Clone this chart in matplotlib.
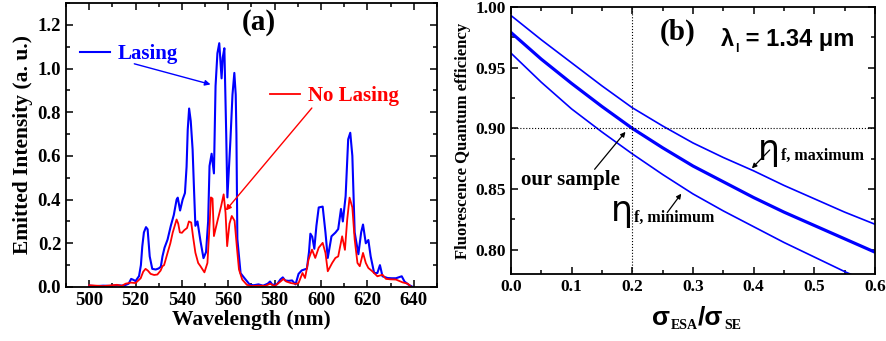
import numpy as np
import matplotlib
matplotlib.use("Agg")
import matplotlib.pyplot as plt
from matplotlib.ticker import MultipleLocator

plt.rcParams['font.family'] = ['Liberation Serif', 'DejaVu Serif']
plt.rcParams['font.weight'] = 'bold'
plt.rcParams['axes.labelweight'] = 'bold'

# (a) emission spectra
blue_nm = [500, 503, 506, 509, 512, 515, 517, 518.1, 519, 520, 521.5, 522.3, 522.9, 523.6,
           524.5, 525.2, 526.1, 527.2, 528.7, 530, 530.9, 531.6, 532.5, 533.8, 535.2, 536.5,
           537.7, 538.2, 539.2, 540.3, 541.3, 542, 542.5, 543.1, 543.8, 544.6, 545.2, 545.8,
           546.7, 548, 549.3, 550.4, 551.3, 551.9, 552.8, 553.8, 554.5, 555.3, 556.1, 557.1,
           557.6, 558.3, 559.1, 559.6, 560.3, 560.9, 561.8, 562.6, 563.2, 563.5, 563.9, 565.3,
           567, 569.3, 571, 573, 575, 577, 578, 579, 581, 582.5, 583.5, 584.5, 586, 587.5,
           589, 590.3, 591.7, 593.9, 594.8, 595.4, 596.2, 597.1, 598, 599, 600.7, 601.9,
           602.9, 604.5, 606.2, 607.4, 608.6, 609.4, 610.6, 611.7, 612.6, 613.5, 614.5, 616.1,
           617.3, 618.1, 619.3, 620.4, 621.4, 622.9, 624.3, 625.4, 626.5, 628.7, 630.5, 632.3,
           634.8, 636, 637.8, 639.6]
blue_int = [0.006, 0.004, 0.006, 0.005, 0.008, 0.006, 0.015, 0.037, 0.033, 0.027, 0.05, 0.1,
            0.186, 0.25, 0.274, 0.264, 0.14, 0.083, 0.08, 0.085, 0.093, 0.14, 0.18, 0.217,
            0.28, 0.33, 0.40, 0.409, 0.35, 0.40, 0.43, 0.55, 0.72, 0.817, 0.76, 0.63, 0.45,
            0.28, 0.30, 0.21, 0.132, 0.16, 0.3, 0.554, 0.61, 0.52, 0.92, 1.07, 1.116, 0.955,
            1.05, 1.093, 0.70, 0.41, 0.55, 0.67, 0.88, 0.98, 0.88, 0.70, 0.22, 0.063, 0.04,
            0.01, 0.008, 0.012, 0.006, 0.015, 0.025, 0.01, 0.012, 0.035, 0.044, 0.03, 0.028,
            0.03, 0.012, 0.06, 0.076, 0.084, 0.16, 0.244, 0.23, 0.175, 0.28, 0.364, 0.368,
            0.25, 0.133, 0.232, 0.249, 0.265, 0.357, 0.30, 0.416, 0.676, 0.706, 0.60, 0.25,
            0.15, 0.25, 0.286, 0.20, 0.215, 0.14, 0.064, 0.064, 0.10, 0.049, 0.041, 0.04,
            0.04, 0.049, 0.025, 0.01, 0.0]

red_nm = [500, 503, 506, 509, 512, 514, 515.7, 518, 520, 522.2, 523.3, 524.3, 525.3, 526.5,
          528, 529.4, 530.8, 531.6, 532.3, 533.8, 535, 536, 537.7, 538.4, 539.1, 540, 541,
          542.2, 543, 544, 544.8, 545.8, 547, 548, 549.7, 551, 552, 552.5, 553.2, 553.8,
          554.6, 555.5, 556.9, 558, 558.8, 559.5, 560.5, 561.5, 562.7, 563.8, 564.6, 566,
          568, 570, 573, 576, 578, 580, 582.5, 583.8, 585, 587, 589, 590.3, 592, 593.1,
          594.6, 596.1, 597.5, 599, 600.7, 601.9, 602.9, 604.8, 606.2, 607.4, 609.1, 610.3,
          611.3, 612.3, 613.5, 614.5, 615.7, 616.7, 618.1, 619.3, 620.4, 622.1, 624.3, 626.5,
          628, 630, 632.3, 635.2, 637.4, 638.9]
red_int = [0.008, 0.006, 0.004, 0.007, 0.01, 0.005, 0.015, 0.02, 0.018, 0.04, 0.07, 0.083,
           0.075, 0.06, 0.055, 0.057, 0.075, 0.095, 0.1, 0.156, 0.2, 0.248, 0.309, 0.29, 0.25,
           0.248, 0.26, 0.27, 0.30, 0.295, 0.23, 0.157, 0.11, 0.095, 0.067, 0.11, 0.3, 0.41,
           0.405, 0.233, 0.27, 0.31, 0.37, 0.424, 0.34, 0.187, 0.29, 0.325, 0.303, 0.17, 0.08,
           0.034, 0.01, 0.004, 0.006, 0.005, 0.015, 0.004, 0.025, 0.037, 0.025, 0.018, 0.014,
           0.018, 0.064, 0.041, 0.125, 0.171, 0.133, 0.18, 0.202, 0.156, 0.072, 0.11, 0.133,
           0.14, 0.232, 0.17, 0.31, 0.409, 0.364, 0.218, 0.11, 0.095, 0.156, 0.11, 0.087,
           0.072, 0.049, 0.056, 0.037, 0.035, 0.034, 0.021, 0.015, 0.0]

# (b) fluorescence quantum efficiency vs sigma_ESA / sigma_SE
ratio = [0.0, 0.05, 0.1, 0.15, 0.2, 0.25, 0.3, 0.35, 0.4, 0.45, 0.5, 0.55, 0.6]
eta_max = [0.993, 0.973, 0.954, 0.935, 0.917, 0.902, 0.888, 0.876, 0.865, 0.853, 0.842, 0.831, 0.821]
eta_mid = [0.979, 0.957, 0.937, 0.918, 0.900, 0.884, 0.869, 0.856, 0.843, 0.831, 0.820, 0.809, 0.798]
eta_min = [0.962, 0.938, 0.916, 0.897, 0.879, 0.862, 0.846, 0.832, 0.819, 0.806, 0.794, 0.782, 0.771]
sample_ratio = 0.2
sample_eta = 0.90


def style_axes(ax, tick_size):
    for s in ax.spines.values():
        s.set_linewidth(1.3)
    ax.tick_params(which='both', direction='in', top=True, right=True, labelsize=tick_size, width=1.1)
    ax.tick_params(which='major', length=5)
    ax.tick_params(which='minor', length=3)


def chain_text(ax, x, y, parts, transform):
    # parts: (text, size, family, weight, dy in points below/above the common baseline)
    prev = None
    for txt, size, fam, wt, dy in parts:
        if prev is None:
            t = ax.text(x, y, txt, fontsize=size, family=fam, weight=wt, va='baseline',
                        transform=transform, clip_on=False)
        else:
            t = ax.annotate(txt, xy=(1, y), xycoords=(prev, transform), xytext=(0.5, dy),
                            textcoords='offset points', fontsize=size, family=fam, weight=wt,
                            va='baseline', ha='left', annotation_clip=False)
        prev = t


fig = plt.figure(figsize=(8.86, 3.41), dpi=100)

# ---------- (a)
ax1 = fig.add_axes([0.0745, 0.1584, 0.4187, 0.8328])
lb, = ax1.plot(blue_nm, blue_int, color='#0000ff', lw=1.5)
lr, = ax1.plot(red_nm, red_int, color='#ff0000', lw=1.3)
ax1.set_xlim(490, 650)
ax1.set_ylim(0, 1.3)
ax1.xaxis.set_minor_locator(MultipleLocator(10))
ax1.yaxis.set_major_locator(MultipleLocator(0.2))
ax1.yaxis.set_minor_locator(MultipleLocator(0.1))
ax1.set_xticks([500, 520, 540, 560, 580, 600, 620, 640])
ax1.yaxis.set_major_formatter(plt.FuncFormatter(lambda v, p: f"{v:.1f}"))
style_axes(ax1, 13.5)
ax1.set_xlabel("Wavelength (nm)", fontsize=15.5, labelpad=1)
ax1.set_ylabel("Emitted Intensity (a. u.)", fontsize=15.5, labelpad=3)

leg_font = dict(family='Liberation Serif', weight='bold', size=15)
leg1 = ax1.legend([lb], ['Lasing'], loc='center left', bbox_to_anchor=(0.038, 0.821),
                  frameon=False, prop=leg_font, handlelength=1.45, handletextpad=0.35,
                  borderpad=0, borderaxespad=0, labelcolor='#0000ff')
ax1.add_artist(leg1)
ax1.legend([lr], ['No Lasing'], loc='center left', bbox_to_anchor=(0.55, 0.673),
           frameon=False, prop=leg_font, handlelength=1.45, handletextpad=0.35,
           borderpad=0, borderaxespad=0, labelcolor='#ff0000')

ax1.annotate('', xy=(553.5, 0.924), xytext=(518.3, 1.025),
             arrowprops=dict(arrowstyle='-|>', color='#0000ff', lw=1.0, mutation_scale=8))
ax1.annotate('', xy=(558.1, 0.34), xytext=(596.8, 0.829),
             arrowprops=dict(arrowstyle='-|>', color='#ff0000', lw=1.0, mutation_scale=8))
ax1.text(573, 1.21, "(a)", fontsize=21, ha='center', va='center')

# ---------- (b)
ax2 = fig.add_axes([0.5767, 0.1965, 0.4108, 0.783])
ax2.plot(ratio, eta_max, color='#0000ff', lw=1.2)
ax2.plot(ratio, eta_mid, color='#0000ff', lw=2.3)
ax2.plot(ratio, eta_min, color='#0000ff', lw=1.2)
ax2.axvline(sample_ratio, color='k', ls=':', lw=0.8)
ax2.axhline(sample_eta, color='k', ls=':', lw=0.8)
ax2.set_xlim(0, 0.6)
ax2.set_ylim(0.78, 1.0)
ax2.xaxis.set_major_locator(MultipleLocator(0.1))
ax2.xaxis.set_minor_locator(MultipleLocator(0.05))
ax2.yaxis.set_major_locator(MultipleLocator(0.05))
ax2.yaxis.set_minor_locator(MultipleLocator(0.025))
ax2.xaxis.set_major_formatter(plt.FuncFormatter(lambda v, p: f"{v:.1f}"))
ax2.yaxis.set_major_formatter(plt.FuncFormatter(lambda v, p: f"{v:.2f}"))
style_axes(ax2, 12.5)
ax2.set_ylabel("Fluorescence Quantum efficiency", fontsize=12, labelpad=3)

ax2.text(0.245, 0.973, "(b)", fontsize=21, ha='left', va='baseline')
chain_text(ax2, 0.346, 0.9675,
           [("λ", 17, 'Liberation Sans', 'bold', 0),
            ("l", 9, 'Liberation Sans', 'bold', -4),
            (" = 1.34 μm", 17, 'Liberation Sans', 'bold', 0)], ax2.transData)

ax2.text(0.017, 0.8536, "our sample", fontsize=15, ha='left', va='baseline')
ax2.annotate('', xy=(0.1917, 0.8989), xytext=(0.135, 0.8645),
             arrowprops=dict(arrowstyle='-|>', color='k', lw=0.9, mutation_scale=7))

chain_text(ax2, 0.407, 0.874,
           [("η", 25, 'DejaVu Sans', 'normal', 0),
            ("f, maximum", 11.5, 'Liberation Serif', 'bold', 0)], ax2.transData)
ax2.annotate('', xy=(0.394, 0.8654), xytext=(0.4297, 0.8838),
             arrowprops=dict(arrowstyle='-|>', color='k', lw=0.9, mutation_scale=7))

chain_text(ax2, 0.165, 0.8233,
           [("η", 25, 'DejaVu Sans', 'normal', 0),
            ("f, minimum", 11.5, 'Liberation Serif', 'bold', 0)], ax2.transData)
ax2.annotate('', xy=(0.2835, 0.848), xytext=(0.255, 0.8288),
             arrowprops=dict(arrowstyle='-|>', color='k', lw=0.9, mutation_scale=7))

chain_text(ax2, 0.387, -0.191,
           [("σ", 19, 'Liberation Sans', 'bold', 0),
            ("ESA", 10, 'Liberation Serif', 'bold', -3),
            ("/σ", 19, 'Liberation Sans', 'bold', 0),
            ("SE", 10, 'Liberation Serif', 'bold', -3)], ax2.transAxes)

fig.savefig("out.png", dpi=100)
